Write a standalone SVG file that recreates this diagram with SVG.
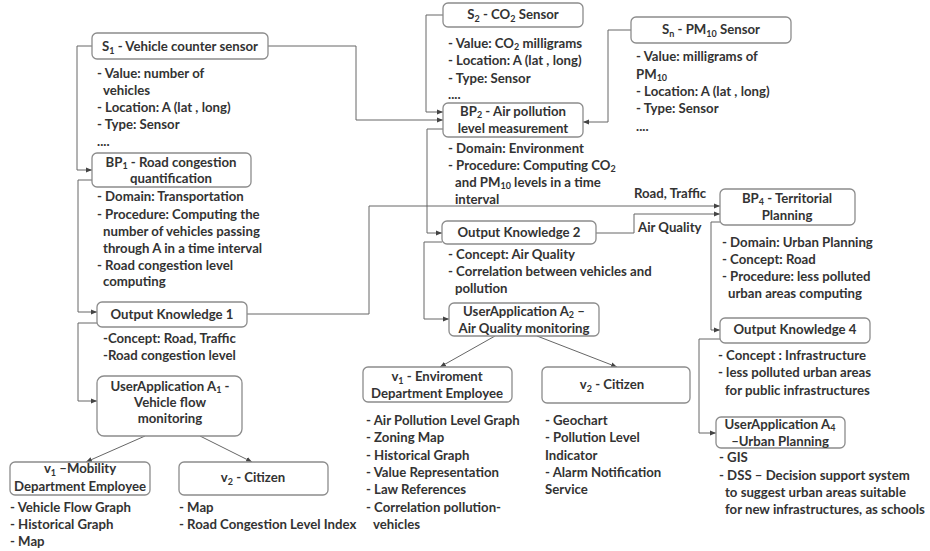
<svg xmlns="http://www.w3.org/2000/svg" width="930" height="551" viewBox="0 0 930 551">
<defs>
<style>
.t{font-family:Lato,'Liberation Sans',sans-serif;font-weight:bold;font-size:13.2px;fill:#333}
.c{text-anchor:middle}
.s{font-size:9px}
.b{fill:#fff;stroke:#8c8c8c;stroke-width:1.3}
.ln{fill:none;stroke:#666;stroke-width:1}
</style>
<marker id="ah" markerUnits="userSpaceOnUse" markerWidth="6" markerHeight="6" refX="6" refY="3" orient="auto">
<path d="M0,0.5 L6,3 L0,5.5 z" fill="#444"/>
</marker>
</defs>
<rect width="930" height="551" fill="#fff"/>

<g id="connectors" class="ln" marker-end="url(#ah)">
<path d="M92,46 H77 V170 H92"/>
<path d="M92,180 H78 V312 H97"/>
<path d="M97,323 H78 V401 H97"/>
<path d="M145,436 L86,462"/>
<path d="M200,436 L252,462"/>
<path d="M268,46 H356 V120 H443"/>
<path d="M443,15 H426 V112 H443"/>
<path d="M631,30 H608 V122 H583"/>
<path d="M443,129 H427 V233 H442"/>
<path d="M442,242 H424 V319 H449"/>
<path d="M495,336 L440,367"/>
<path d="M537,336 L617,367"/>
<path d="M247,314 H369 V206 H720"/>
<path d="M596,233 H634 V214 H720"/>
<path d="M720,222 H711 V330 H720"/>
<path d="M720,339 H699 V433 H716"/>
</g>
<g id="edge-labels">
<text class="t" x="634" y="197.5">Road, Traffic</text>
<text class="t" x="638" y="232">Air Quality</text>
</g>

<g id="S1">
<rect class="b" x="92" y="33" width="176" height="26" rx="5"/>
<text class="t c" x="180" y="51">S<tspan class="s" dy="2.5">1</tspan><tspan dy="-2.5"> - Vehicle counter sensor</tspan></text>
<text class="t" x="97" y="77.5">- Value: number of</text>
<text class="t" x="103" y="94.5">vehicles</text>
<text class="t" x="97" y="111.5">- Location: A (lat , long)</text>
<text class="t" x="97" y="128.5">- Type: Sensor</text>
<text class="t" x="97" y="146">....</text>
</g>

<g id="BP1">
<rect class="b" x="92" y="153" width="159" height="34" rx="5"/>
<text class="t c" x="171" y="166.5">BP<tspan class="s" dy="2.5">1</tspan><tspan dy="-2.5"> - Road congestion</tspan></text>
<text class="t c" x="171" y="182.5">quantification</text>
<text class="t" x="97" y="200.5">- Domain: Transportation</text>
<text class="t" x="97" y="218.5">- Procedure: Computing  the</text>
<text class="t" x="103" y="235.5">number of vehicles passing</text>
<text class="t" x="103" y="252.5">through A in a time interval</text>
<text class="t" x="97" y="269.5">- Road congestion level</text>
<text class="t" x="103" y="285.5">computing</text>
</g>

<g id="OK1">
<rect class="b" x="97" y="302" width="150" height="25" rx="5"/>
<text class="t c" x="172" y="319">Output Knowledge 1</text>
<text class="t" x="103" y="342.5">-Concept: Road, Traffic</text>
<text class="t" x="103" y="359.5">-Road congestion level</text>
</g>

<g id="A1">
<rect class="b" x="97" y="376" width="145" height="60" rx="7"/>
<text class="t c" x="170" y="390.5">UserApplication A<tspan class="s" dy="2.5">1</tspan><tspan dy="-2.5"> -</tspan></text>
<text class="t c" x="170" y="406.5">Vehicle flow</text>
<text class="t c" x="170" y="423">monitoring</text>
</g>

<g id="A1v1">
<rect class="b" x="10" y="462" width="140" height="33" rx="5"/>
<text class="t c" x="80" y="473">v<tspan class="s" dy="2.5">1</tspan><tspan dy="-2.5"> –Mobility</tspan></text>
<text class="t c" x="80" y="491">Department Employee</text>
<text class="t" x="10" y="511.5">- Vehicle Flow Graph</text>
<text class="t" x="10" y="528.5">- Historical Graph</text>
<text class="t" x="10" y="545.5">- Map</text>
</g>

<g id="A1v2">
<rect class="b" x="179" y="462" width="149" height="33" rx="5"/>
<text class="t c" x="253" y="482">v<tspan class="s" dy="2.5">2</tspan><tspan dy="-2.5"> - Citizen</tspan></text>
<text class="t" x="179" y="511.5">- Map</text>
<text class="t" x="179" y="528.5">- Road Congestion Level Index</text>
</g>

<g id="S2">
<rect class="b" x="443" y="3" width="140" height="24" rx="5"/>
<text class="t c" x="513" y="19">S<tspan class="s" dy="2.5">2</tspan><tspan dy="-2.5"> - CO</tspan><tspan class="s" dy="2.5">2</tspan><tspan dy="-2.5"> Sensor</tspan></text>
<text class="t" x="448" y="47.5">- Value: CO<tspan class="s" dy="2.5">2</tspan><tspan dy="-2.5"> milligrams</tspan></text>
<text class="t" x="448" y="64.5">- Location: A (lat , long)</text>
<text class="t" x="448" y="82.5">- Type: Sensor</text>
<text class="t" x="448" y="99">....</text>
</g>

<g id="Sn">
<rect class="b" x="631" y="17" width="160" height="26" rx="5"/>
<text class="t c" x="711" y="34">S<tspan class="s" dy="2.5">n</tspan><tspan dy="-2.5"> - PM</tspan><tspan class="s" dy="2.5">10</tspan><tspan dy="-2.5"> Sensor</tspan></text>
<text class="t" x="636" y="60.5">- Value: milligrams of</text>
<text class="t" x="636" y="78.5">PM<tspan class="s" dy="2.5">10</tspan></text>
<text class="t" x="636" y="95.5">- Location: A (lat , long)</text>
<text class="t" x="636" y="112.5">- Type: Sensor</text>
<text class="t" x="636" y="131">....</text>
</g>

<g id="BP2">
<rect class="b" x="443" y="103" width="140" height="34" rx="5"/>
<text class="t c" x="513" y="115.5">BP<tspan class="s" dy="2.5">2</tspan><tspan dy="-2.5"> - Air pollution</tspan></text>
<text class="t c" x="513" y="132.5">level measurement</text>
<text class="t" x="448" y="152.5">- Domain: Environment</text>
<text class="t" x="448" y="169.5">- Procedure: Computing CO<tspan class="s" dy="2.5">2</tspan></text>
<text class="t" x="455" y="186.5">and PM<tspan class="s" dy="2.5">10</tspan><tspan dy="-2.5"> levels in a time</tspan></text>
<text class="t" x="455" y="204">interval</text>
</g>

<g id="OK2">
<rect class="b" x="442" y="221" width="154" height="23" rx="5"/>
<text class="t c" x="519" y="237">Output Knowledge 2</text>
<text class="t" x="448" y="258.5">- Concept: Air Quality</text>
<text class="t" x="448" y="275.5">- Correlation between vehicles and</text>
<text class="t" x="455" y="292.5">pollution</text>
</g>

<g id="A2">
<rect class="b" x="449" y="303" width="150" height="33" rx="5"/>
<text class="t c" x="524" y="315.5">UserApplication A<tspan class="s" dy="2.5">2</tspan><tspan dy="-2.5"> –</tspan></text>
<text class="t c" x="524" y="332.5">Air Quality monitoring</text>
</g>

<g id="A2v1">
<rect class="b" x="363" y="367" width="149" height="35" rx="5"/>
<text class="t c" x="437" y="381">v<tspan class="s" dy="2.5">1</tspan><tspan dy="-2.5"> - Enviroment</tspan></text>
<text class="t c" x="437" y="398">Department Employee</text>
<text class="t" x="366" y="424.5">- Air Pollution Level Graph</text>
<text class="t" x="366" y="441.5">- Zoning Map</text>
<text class="t" x="366" y="459.5">- Historical Graph</text>
<text class="t" x="366" y="476.5">- Value Representation</text>
<text class="t" x="366" y="493.5">- Law References</text>
<text class="t" x="366" y="511.5">- Correlation pollution-</text>
<text class="t" x="373" y="528.5">vehicles</text>
</g>

<g id="A2v2">
<rect class="b" x="542" y="367" width="148" height="36" rx="5"/>
<text class="t c" x="612" y="389">v<tspan class="s" dy="2.5">2</tspan><tspan dy="-2.5"> - Citizen</tspan></text>
<text class="t" x="545" y="424.5">- Geochart</text>
<text class="t" x="545" y="441.5">- Pollution Level</text>
<text class="t" x="545" y="459.5">Indicator</text>
<text class="t" x="545" y="476.5">- Alarm Notification</text>
<text class="t" x="545" y="493.5">Service</text>
</g>

<g id="BP4">
<rect class="b" x="720" y="189" width="135" height="36" rx="5"/>
<text class="t c" x="787" y="202.5">BP<tspan class="s" dy="2.5">4</tspan><tspan dy="-2.5"> - Territorial</tspan></text>
<text class="t c" x="787" y="219.5">Planning</text>
<text class="t" x="722" y="246.5">- Domain: Urban Planning</text>
<text class="t" x="722" y="263.5">- Concept: Road</text>
<text class="t" x="722" y="280.5">- Procedure: less polluted</text>
<text class="t" x="728" y="297.5">urban areas computing</text>
</g>

<g id="OK4">
<rect class="b" x="720" y="318" width="150" height="25" rx="5"/>
<text class="t c" x="795" y="334">Output Knowledge 4</text>
<text class="t" x="718" y="359.5">- Concept : Infrastructure</text>
<text class="t" x="718" y="376.5">- less polluted urban areas</text>
<text class="t" x="725" y="394.5">for public infrastructures</text>
</g>

<g id="A4">
<rect class="b" x="716" y="417" width="129" height="31" rx="5"/>
<text class="t c" x="780" y="428.5">UserApplication A<tspan class="s" dy="2.5">4</tspan></text>
<text class="t c" x="780" y="446">–Urban Planning</text>
<text class="t" x="719" y="461.5">- GIS</text>
<text class="t" x="719" y="479.5">- DSS – Decision support system</text>
<text class="t" x="725" y="496.5">to suggest urban areas suitable</text>
<text class="t" x="725" y="513.5">for new infrastructures, as schools</text>
</g>
</svg>
